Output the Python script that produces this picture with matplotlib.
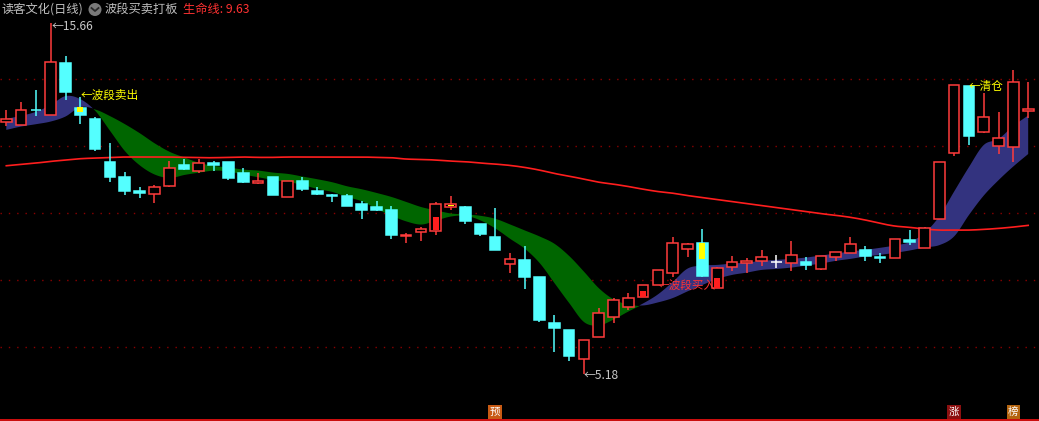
import matplotlib
matplotlib.use("Agg")
import matplotlib.pyplot as plt
import matplotlib.transforms as mtransforms
from matplotlib.patches import Rectangle, Circle
from matplotlib.lines import Line2D
import numpy as np

plt.rcParams['font.family'] = ['Noto Sans CJK SC', 'DejaVu Sans']

# 日线 K 线 (70 根)
opens = [12.72, 12.62, 13.08, 12.92, 14.47, 13.13, 12.81, 11.52, 11.07, 10.66,
         10.56, 10.80, 11.43, 11.26, 11.49, 11.52, 11.19, 10.90, 11.07, 10.49,
         10.95, 10.66, 10.55, 10.51, 10.27, 10.18, 10.09, 9.32, 9.44, 9.47,
         10.19, 10.18, 9.67, 9.28, 8.47, 8.60, 8.09, 6.71, 6.51, 5.63,
         6.31, 6.89, 7.19, 7.48, 7.84, 8.20, 8.92, 9.10, 7.75, 8.38,
         8.52, 8.58, 8.53, 8.52, 8.55, 8.34, 8.70, 8.82, 8.90, 8.68,
         8.65, 9.19, 8.96, 9.83, 11.80, 13.79, 12.43, 12.01, 11.98, 13.05]
highs = [13.07, 13.31, 13.67, 15.66, 14.69, 13.45, 12.87, 12.08, 11.21, 10.79,
         10.84, 11.55, 11.61, 11.61, 11.55, 11.52, 11.34, 11.19, 11.07, 10.95,
         11.07, 10.78, 10.57, 10.56, 10.36, 10.36, 10.21, 9.40, 9.58, 10.33,
         10.51, 10.21, 9.67, 10.15, 8.80, 9.01, 8.09, 6.95, 6.51, 6.21,
         7.16, 7.45, 7.60, 7.84, 8.30, 9.27, 9.10, 9.52, 8.40, 8.72,
         8.65, 8.90, 8.75, 9.16, 8.70, 8.72, 8.83, 9.27, 9.01, 8.80,
         9.22, 9.49, 9.59, 11.51, 13.81, 13.79, 13.57, 13.01, 14.27, 13.90]
lows = [12.60, 12.62, 12.90, 12.92, 13.37, 12.65, 11.85, 10.93, 10.55, 10.46,
        10.29, 10.77, 11.28, 11.19, 11.26, 10.99, 10.90, 10.87, 10.55, 10.49,
        10.67, 10.54, 10.33, 10.22, 9.82, 10.06, 9.22, 9.10, 9.16, 9.34,
        10.09, 9.67, 9.31, 8.90, 8.22, 7.74, 6.76, 5.86, 5.59, 5.18,
        6.31, 6.71, 7.10, 7.48, 7.84, 8.10, 8.70, 8.10, 7.75, 8.28,
        8.22, 8.43, 8.37, 8.28, 8.30, 8.30, 8.58, 8.82, 8.58, 8.52,
        8.65, 9.04, 8.96, 9.83, 11.70, 12.03, 12.40, 11.77, 11.53, 12.83]
closes = [12.80, 13.07, 13.06, 14.50, 13.62, 12.92, 11.92, 11.08, 10.67, 10.59,
          10.77, 11.34, 11.32, 11.48, 11.44, 11.05, 10.93, 10.96, 10.55, 10.95,
          10.73, 10.58, 10.52, 10.22, 10.09, 10.09, 9.34, 9.34, 9.52, 10.27,
          10.27, 9.76, 9.37, 8.90, 8.62, 8.10, 6.81, 6.58, 5.74, 6.21,
          7.01, 7.39, 7.45, 7.84, 8.30, 9.10, 9.07, 8.13, 8.35, 8.55,
          8.56, 8.69, 8.53, 8.75, 8.46, 8.72, 8.83, 9.07, 8.73, 8.66,
          9.22, 9.13, 9.56, 11.51, 13.81, 12.31, 12.86, 12.23, 13.90, 13.10]

# 生命线
life_line = [11.41, 11.45, 11.49, 11.54, 11.58, 11.62, 11.64, 11.66, 11.67, 11.67,
             11.67, 11.67, 11.66, 11.65, 11.65, 11.66, 11.67, 11.66, 11.66, 11.67,
             11.67, 11.67, 11.67, 11.67, 11.67, 11.66, 11.65, 11.61, 11.60, 11.58,
             11.55, 11.53, 11.49, 11.46, 11.42, 11.36, 11.28, 11.18, 11.10, 11.01,
             10.92, 10.86, 10.79, 10.71, 10.64, 10.59, 10.52, 10.46, 10.40, 10.34,
             10.28, 10.22, 10.16, 10.10, 10.04, 9.98, 9.93, 9.87, 9.79, 9.69,
             9.61, 9.57, 9.52, 9.49, 9.49, 9.49, 9.51, 9.54, 9.58, 9.63]

# 波段通道: 快线 / 慢线
band_fast = [12.81, 12.90, 13.02, 13.22, 13.49, 13.40, 13.05, 12.45, 11.85, 11.43,
             11.16, 11.06, 11.15, 11.22, 11.28, 11.25, 11.16, 11.08, 11.00, 10.94,
             10.85, 10.73, 10.64, 10.49, 10.36, 10.13, 9.93, 9.76, 9.67, 9.79,
             9.91, 9.93, 9.79, 9.55, 9.24, 8.94, 8.51, 7.91, 7.31, 6.75,
             6.66, 6.84, 7.08, 7.30, 7.57, 7.94, 8.34, 8.43, 8.45, 8.49,
             8.52, 8.57, 8.60, 8.63, 8.67, 8.73, 8.79, 8.85, 8.90, 8.96,
             9.03, 9.13, 9.40, 9.90, 10.64, 11.37, 12.03, 12.21, 12.60, 12.91]
band_slow = [12.48, 12.58, 12.65, 12.73, 12.88, 13.16, 13.10, 12.90, 12.66, 12.39,
             12.09, 11.84, 11.67, 11.51, 11.42, 11.37, 11.31, 11.28, 11.22, 11.18,
             11.10, 11.02, 10.93, 10.81, 10.72, 10.61, 10.49, 10.34, 10.19, 10.09,
             10.00, 9.97, 9.93, 9.84, 9.67, 9.49, 9.31, 9.09, 8.72, 8.25,
             7.76, 7.43, 7.28, 7.24, 7.33, 7.46, 7.66, 7.85, 8.03, 8.15,
             8.22, 8.30, 8.33, 8.37, 8.43, 8.49, 8.57, 8.63, 8.70, 8.75,
             8.81, 8.88, 8.97, 9.04, 9.30, 9.94, 10.52, 10.98, 11.39, 11.76]

# 柱状标记 {K线序号: (上沿, 下沿)}
yellow_sticks = {5: (13.16, 13.01), 30: (10.24, 10.20), 47: (9.10, 8.62)}
red_sticks = {29: (9.88, 9.50), 43: (7.67, 7.48), 48: (8.05, 7.75)}

# 信号
sell_idx, buy_idx, clear_idx = 5, 44, 65
grid_prices = [14, 12, 10, 8, 6]
bottom_marks = [(33, "预", "#c85a14"), (64, "涨", "#8c1010"), (68, "榜", "#b4640f")]

W, H = 1039, 421
UP = "#ff3c3c"
DOWN = "#54ffff"
NAVY = "#33337f"
GREEN = "#006600"


def fig_xy(px, py):
    return px / W, 1 - py / H


def smooth(ys, n=10):
    # Catmull-Rom 曲线, 让通道边缘平滑一点
    ys = np.asarray(ys, float)
    p = np.concatenate([[2 * ys[0] - ys[1]], ys, [2 * ys[-1] - ys[-2]]])
    t = np.linspace(0, 1, n, endpoint=False)
    xs_out, ys_out = [], []
    for k in range(len(ys) - 1):
        p0, p1, p2, p3 = p[k], p[k + 1], p[k + 2], p[k + 3]
        y = 0.5 * (2 * p1 + (p2 - p0) * t + (2 * p0 - 5 * p1 + 4 * p2 - p3) * t ** 2
                   + (3 * p1 - p0 - 3 * p2 + p3) * t ** 3)
        xs_out.append(k + t)
        ys_out.append(y)
    xs_out.append([len(ys) - 1])
    ys_out.append([ys[-1]])
    return np.concatenate(xs_out), np.concatenate(ys_out)


fig = plt.figure(figsize=(W / 100, H / 100), dpi=100)
fig.patch.set_facecolor("black")
ax = fig.add_axes([0, 0, 1, 1])
ax.set_facecolor("black")
ax.set_xlim(-0.425, 69.73)
ax.set_ylim(3.79, 16.358)
ax.axis("off")

xs, fast = smooth(band_fast)
_, slow = smooth(band_slow)
_, life = smooth(life_line)

for p in grid_prices:
    ax.axhline(p, color="#8c0000", lw=1, ls=(0, (1, 5)), zorder=1)

ax.fill_between(xs, fast, slow, where=fast >= slow, interpolate=True,
                color=NAVY, lw=0, zorder=2)
ax.fill_between(xs, fast, slow, where=fast <= slow, interpolate=True,
                color=GREEN, lw=0, zorder=2)
ax.plot(xs, life, color="#ff1e1e", lw=1.2, zorder=3)

bw = 0.72
for i, (o, h, l, c) in enumerate(zip(opens, highs, lows, closes)):
    if c > o:
        col, face = UP, "black"
    elif c < o:
        col, face = DOWN, DOWN
    else:
        col, face = "white", "white"
    ax.vlines(i, l, h, color=col, lw=1.1, zorder=4)
    bottom = min(o, c)
    height = max(abs(c - o), 0.02)
    ax.add_patch(Rectangle((i - bw / 2, bottom), bw, height, facecolor=face,
                           edgecolor=col, lw=1.1, zorder=5))

for sticks, col in ((yellow_sticks, "#ffff00"), (red_sticks, "#ff1e1e")):
    for i, (top, bot) in sticks.items():
        ax.add_patch(Rectangle((i - 0.2, bot), 0.4, top - bot, facecolor=col,
                               edgecolor="none", zorder=6))

# 最高 / 最低价标注
hi = int(np.argmax(highs))
lo = int(np.argmin(lows))
ax.annotate(f"←{highs[hi]:.2f}", (hi, highs[hi]), xytext=(0.5, -2),
            textcoords="offset points", color="#c8c8c8", fontsize=8.6,
            ha="left", va="center", zorder=7)
ax.annotate(f"←{lows[lo]:.2f}", (lo, lows[lo]), xytext=(0, -0.5),
            textcoords="offset points", color="#c8c8c8", fontsize=8.6,
            ha="left", va="center", zorder=7)

# 波段信号
ax.annotate("←波段卖出", (sell_idx, highs[sell_idx]), xytext=(0, 1.5),
            textcoords="offset points", color="#ffff00", fontsize=8.4,
            ha="left", va="center", zorder=7)
ax.annotate("←波段买入", (buy_idx, lows[buy_idx]), xytext=(0, 0),
            textcoords="offset points", color="#ff3232", fontsize=8.4,
            ha="left", va="center", zorder=4.5)
ax.annotate("←清仓", (clear_idx, highs[clear_idx]), xytext=(0, -0.5),
            textcoords="offset points", color="#ffff00", fontsize=8.4,
            ha="left", va="center", zorder=7)

# 底部标记
trans = mtransforms.blended_transform_factory(ax.transData, ax.transAxes)
for i, ch, col in bottom_marks:
    ax.text(i, 1 - 412 / H, ch, transform=trans, color="white", fontsize=7.5,
            ha="center", va="center", zorder=7,
            bbox=dict(boxstyle="square,pad=0.15", facecolor=col, edgecolor="none"))
ax.plot([0, 1], [1.5 / H, 1.5 / H], transform=ax.transAxes, color="#e01010",
        lw=1.3, zorder=8)

# 标题栏
fig.text(*fig_xy(2, 9.5), "读客文化(日线)", color="#c0c0c0", fontsize=8.8,
         ha="left", va="center")
fig.add_artist(Circle((0.95, (H - 9.5) / 100), 0.065, transform=fig.dpi_scale_trans,
                      facecolor="#7a7a7a", edgecolor="none"))
fig.add_artist(Line2D([0.915, 0.95, 0.985], [(H - 8) / 100, (H - 11) / 100, (H - 8) / 100],
                      transform=fig.dpi_scale_trans, color="#2a2a2a", lw=1.3))
fig.text(*fig_xy(105, 9.5), "波段买卖打板", color="#c0c0c0", fontsize=8.8,
         ha="left", va="center")
fig.text(*fig_xy(183, 9.5), f"生命线: {life_line[-1]:.2f}", color="#ff3232",
         fontsize=8.8, ha="left", va="center")

fig.savefig("out.png", dpi=100, facecolor="black")
